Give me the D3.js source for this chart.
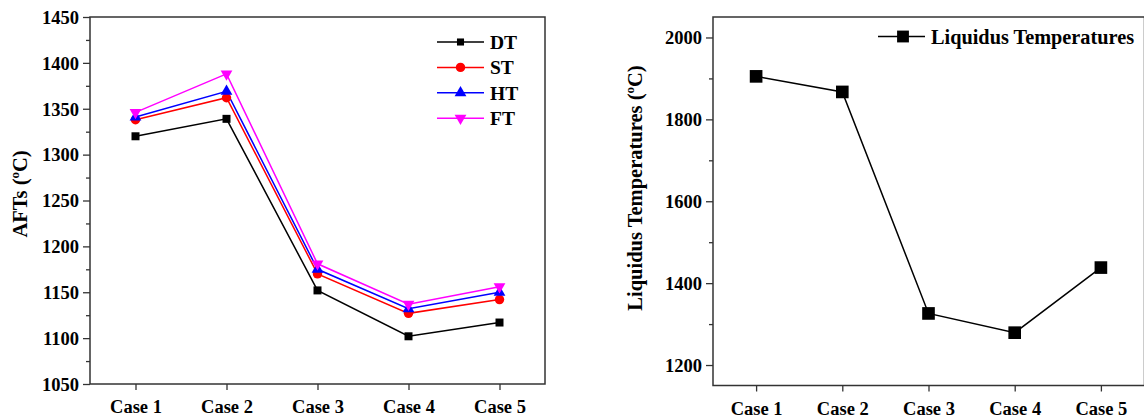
<!DOCTYPE html>
<html>
<head>
<meta charset="utf-8">
<script src="https://cdn.jsdelivr.net/npm/d3@7"></script>
<style>
  html, body { margin: 0; padding: 0; background: #fff; }
  svg { display: block; }
  text { font-family: "Liberation Serif", "Times New Roman", serif; font-weight: bold; fill: #000; }
</style>
</head>
<body>
<svg id="chart" width="1144" height="419"></svg>
<script>
// Ash fusion temperatures per case
const cases = ["Case 1", "Case 2", "Case 3", "Case 4", "Case 5"];
const dtValues = [1320, 1339, 1152, 1102, 1117];
const stValues = [1338, 1362, 1170, 1127, 1142];
const htValues = [1341, 1369, 1175, 1132, 1150];
const ftValues = [1346, 1388, 1181, 1137, 1156];

// Liquidus temperatures per case
const liquidusValues = [1905, 1867, 1326, 1279, 1438];

// Axis ticks
const aftTicks = [1050, 1100, 1150, 1200, 1250, 1300, 1350, 1400, 1450];
const aftMinor = [1075, 1125, 1175, 1225, 1275, 1325, 1375, 1425];
const liqTicks = [1200, 1400, 1600, 1800, 2000];
const liqMinor = [1300, 1500, 1700, 1900];

const aftSeries = [
  { name: "DT", values: dtValues, color: "#000000", symbol: d3.symbolSquare, size: 64, legendSize: 50 },
  { name: "ST", values: stValues, color: "#ff0000", symbol: d3.symbolCircle, size: 70, legendSize: 70 },
  { name: "HT", values: htValues, color: "#0000ff", symbol: d3.symbolTriangle, size: 60, legendSize: 60 },
  { name: "FT", values: ftValues, color: "#ff00ff", symbol: "down", size: 60, legendSize: 60 }
];

const svg = d3.select("#chart");
const frameColor = "#333";

function symbolPath(sym, size) {
  if (sym === "down") {
    return d3.symbol(d3.symbolTriangle, size)();
  }
  return d3.symbol(sym, size)();
}
function symbolTransform(sym, x, y) {
  return sym === "down" ? `translate(${x},${y}) rotate(180)` : `translate(${x},${y})`;
}

function drawFrame(g, x0, y0, x1, y1, y, x, majorTicks, minorTicks) {
  // Left axis with major + minor ticks
  const yAxis = d3.axisLeft(y).tickValues(majorTicks).tickSize(7).tickPadding(4).tickSizeOuter(0).tickFormat(d3.format("d"));
  const ya = g.append("g").attr("transform", `translate(${x0},0)`).call(yAxis);
  const yMinor = d3.axisLeft(y).tickValues(minorTicks).tickSize(4).tickSizeOuter(0).tickFormat("");
  const ym = g.append("g").attr("transform", `translate(${x0},0)`).call(yMinor);
  ym.select(".domain").remove();

  const xAxis = d3.axisBottom(x).tickSize(6).tickPadding(10).tickSizeOuter(0);
  const xa = g.append("g").attr("transform", `translate(0,${y1})`).call(xAxis);

  [ya, ym, xa].forEach(a => {
    a.select(".domain").remove();
    a.selectAll(".tick line").attr("stroke", frameColor).attr("stroke-width", 1.3);
    a.selectAll(".tick text")
      .style("font-family", '"Liberation Serif", "Times New Roman", serif')
      .style("font-weight", "bold")
      .style("font-size", "18.5px")
      .attr("fill", "#000");
  });
  xa.selectAll(".tick text").attr("dy", "0.71em");
  ya.selectAll(".tick text").attr("dy", "0.34em");

  g.append("rect")
    .attr("x", x0).attr("y", y0)
    .attr("width", x1 - x0).attr("height", y1 - y0)
    .attr("fill", "none").attr("stroke", frameColor).attr("stroke-width", 1.5);
}

// ---------- Left panel: AFTs ----------
{
  const x0 = 90, x1 = 545, y0 = 17, y1 = 384;
  const x = d3.scalePoint().domain(cases).range([x0, x1]).padding(0.5);
  const y = d3.scaleLinear().domain([1050, 1450]).range([y1, y0]);
  const g = svg.append("g");
  drawFrame(g, x0, y0, x1, y1, y, x, aftTicks, aftMinor);

  const line = d3.line().x((d, i) => x(cases[i])).y(d => y(d));
  aftSeries.forEach(s => {
    g.append("path").attr("d", line(s.values))
      .attr("fill", "none").attr("stroke", s.color).attr("stroke-width", 1.5);
  });
  aftSeries.forEach(s => {
    g.selectAll(null).data(s.values).enter().append("path")
      .attr("d", symbolPath(s.symbol, s.size))
      .attr("transform", (d, i) => symbolTransform(s.symbol, x(cases[i]), y(d)))
      .attr("fill", s.color);
  });

  // Legend
  const lg = g.append("g");
  aftSeries.forEach((s, i) => {
    const ly = 42 + i * 25.4;
    lg.append("line").attr("x1", 437).attr("x2", 484).attr("y1", ly).attr("y2", ly)
      .attr("stroke", s.color).attr("stroke-width", 1.5);
    lg.append("path").attr("d", symbolPath(s.symbol, s.legendSize))
      .attr("transform", symbolTransform(s.symbol, 460.5, ly)).attr("fill", s.color);
    lg.append("text").attr("x", 490).attr("y", ly).attr("dy", "0.35em")
      .style("font-size", "19.5px").text(s.name);
  });

  // Axis title
  const t = g.append("text")
    .attr("transform", "translate(27,194) rotate(-90)")
    .attr("text-anchor", "middle")
    .style("font-size", "20.5px");
  t.append("tspan").text("AFTs (");
  t.append("tspan").text("o").style("font-size", "13px").attr("dy", "-8");
  t.append("tspan").text("C)").attr("dy", "8");
}

// ---------- Right panel: liquidus temperatures ----------
{
  const x0 = 713, x1 = 1144.5, y0 = 17, y1 = 385.5;
  const x = d3.scalePoint().domain(cases).range([x0, x1 - 0.5]).padding(0.5);
  const y = d3.scaleLinear().domain([1150, 2050]).range([y1, y0]);
  const g = svg.append("g");
  drawFrame(g, x0, y0, x1, y1, y, x, liqTicks, liqMinor);

  const line = d3.line().x((d, i) => x(cases[i])).y(d => y(d));
  g.append("path").attr("d", line(liquidusValues))
    .attr("fill", "none").attr("stroke", "#000").attr("stroke-width", 1.5);
  g.selectAll(null).data(liquidusValues).enter().append("path")
    .attr("d", d3.symbol(d3.symbolSquare, 160)())
    .attr("transform", (d, i) => `translate(${x(cases[i])},${y(d)})`)
    .attr("fill", "#000");

  // Legend
  g.append("line").attr("x1", 878).attr("x2", 925).attr("y1", 36.5).attr("y2", 36.5)
    .attr("stroke", "#000").attr("stroke-width", 1.5);
  g.append("path").attr("d", d3.symbol(d3.symbolSquare, 140)())
    .attr("transform", "translate(903,36.5)").attr("fill", "#000");
  g.append("text").attr("x", 931).attr("y", 36.5).attr("dy", "0.35em")
    .style("font-size", "20.3px").text("Liquidus Temperatures");

  // Axis title
  const t = g.append("text")
    .attr("transform", "translate(641.5,188) rotate(-90)")
    .attr("text-anchor", "middle")
    .style("font-size", "20.5px");
  t.append("tspan").text("Liquidus Temperatures (");
  t.append("tspan").text("o").style("font-size", "13px").attr("dy", "-8");
  t.append("tspan").text("C)").attr("dy", "8");
}
</script>
</body>
</html>
